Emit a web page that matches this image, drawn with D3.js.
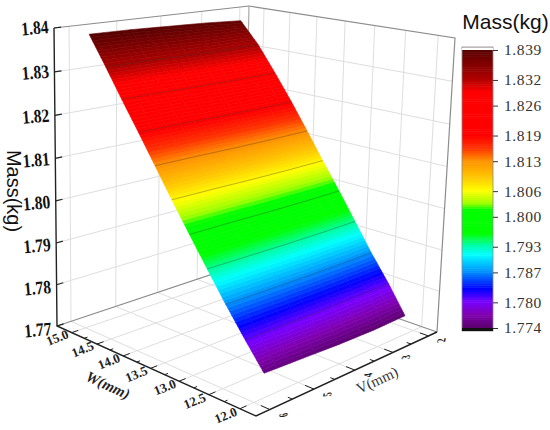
<!DOCTYPE html>
<html>
<head>
<meta charset="utf-8">
<script src="https://cdnjs.cloudflare.com/ajax/libs/d3/7.8.5/d3.min.js"></script>
<style>
  html, body { margin: 0; padding: 0; background: #fff; }
  svg { display: block; }
</style>
</head>
<body>
<svg id="chart" width="550" height="430"></svg>
<script>
// --------------------------------------------------------------------------------------
// data
// --------------------------------------------------------------------------------------
var w_rows = [12.05, 12.33, 12.62, 12.90, 13.18, 13.47, 13.75, 14.03, 14.32, 14.60, 14.88];
// the surface edges in V drift a bit from row to row
var v_left = [5.72, 5.76, 5.81, 5.85, 5.88, 5.90, 5.92, 5.94, 5.96, 5.98, 6.02];
var v_right = [2.17, 2.19, 2.23, 2.25, 2.27, 2.29, 2.31, 2.34, 2.38, 2.45, 2.54];
var mass_rows = [
  [1.7748, 1.7744, 1.7740, 1.7738, 1.7740],
  [1.7806, 1.7805, 1.7804, 1.7804, 1.7805],
  [1.7871, 1.7870, 1.7869, 1.7869, 1.7870],
  [1.7936, 1.7935, 1.7934, 1.7934, 1.7935],
  [1.8000, 1.8000, 1.7999, 1.7999, 1.8000],
  [1.8065, 1.8065, 1.8064, 1.8064, 1.8065],
  [1.8130, 1.8130, 1.8129, 1.8129, 1.8130],
  [1.8195, 1.8195, 1.8194, 1.8194, 1.8195],
  [1.8260, 1.8260, 1.8259, 1.8259, 1.8260],
  [1.8325, 1.8325, 1.8324, 1.8324, 1.8325],
  [1.8392, 1.8391, 1.8388, 1.8385, 1.8380]
];
var v_ticks = [6, 5, 4, 3, 2];
var w_ticks = [15.0, 14.5, 14.0, 13.5, 13.0, 12.5, 12.0];
var z_ticks = [1.77, 1.78, 1.79, 1.80, 1.81, 1.82, 1.83, 1.84];
var legend_ticks = [1.839, 1.832, 1.826, 1.819, 1.813, 1.806, 1.800, 1.793, 1.787, 1.780, 1.774];
var color_stops = [1.774, 1.777, 1.780, 1.783, 1.787, 1.791, 1.793, 1.796, 1.8015, 1.803, 1.806, 1.809, 1.813, 1.816, 1.819, 1.829, 1.832, 1.839];
var color_values = ["#5c0070", "#8000b0", "#7800ff", "#0000ff", "#0090ff", "#00ffff", "#00ffb0", "#00ff00", "#00ff00", "#a0ff00", "#ffff00", "#ffc800", "#ff9000", "#ff3000", "#ff0000", "#ff0000", "#b00000", "#560000"];
// --------------------------------------------------------------------------------------
// box corners on screen - floor and ceiling, a = left, b = front, c = right, d = back
// --------------------------------------------------------------------------------------
var floor_h = homography([57, 326], [256, 416], [437, 332], [243, 264]);
var ceil_h = homography([54, 28], [265, 72], [455, 38], [249, 6]);
var persp = 0.965;     // heights get a bit larger towards the top

var v_scale = d3.scaleLinear().domain([6.3, 1.75]).range([0, 1]);
var w_scale = d3.scaleLinear().domain([15.3, 11.75]).range([0, 1]);
var z_scale = d3.scaleLinear().domain([1.77, 1.84]).range([0, 1]);
var color = d3.scaleLinear().domain(color_stops).range(color_values).clamp(true);
// --------------------------------------------------------------------------------------
// maps the unit square to a quad, (0,0) = a, (0,1) = b, (1,1) = c, (1,0) = d
// --------------------------------------------------------------------------------------
function homography(a, b, c, d)
{
  var dx1 = b[0] - c[0], dx2 = d[0] - c[0], sx = a[0] - b[0] + c[0] - d[0];
  var dy1 = b[1] - c[1], dy2 = d[1] - c[1], sy = a[1] - b[1] + c[1] - d[1];
  var den = dx1 * dy2 - dx2 * dy1;
  var g = (sx * dy2 - dx2 * sy) / den;
  var h = (dx1 * sy - sx * dy1) / den;
  return function(u, v) {
    // s runs along a->b, t along a->d
    var s = v, t = u;
    var w = g * s + h * t + 1;
    return [(a[0] + (b[0] - a[0] + g * b[0]) * s + (d[0] - a[0] + h * d[0]) * t) / w,
            (a[1] + (b[1] - a[1] + g * b[1]) * s + (d[1] - a[1] + h * d[1]) * t) / w];
  };
}
// --------------------------------------------------------------------------------------
// data coordinates -> screen
// --------------------------------------------------------------------------------------
function project(v, w, z)
{
  var f = floor_h(v_scale(v), w_scale(w));
  var c = ceil_h(v_scale(v), w_scale(w));
  var h = z_scale(z);
  var t = h * persp / (1 + h * (persp - 1));
  return [f[0] + (c[0] - f[0]) * t, f[1] + (c[1] - f[1]) * t];
}

var svg = d3.select("#chart");
var line = d3.line();
var v0 = v_scale.domain()[0], v1 = v_scale.domain()[1];
var w0 = w_scale.domain()[0], w1 = w_scale.domain()[1];
var z0 = z_scale.domain()[0], z1 = z_scale.domain()[1];

function draw_line(g, pts, stroke, width)
{
  g.append("path").attr("d", line(pts)).attr("fill", "none")
    .attr("stroke", stroke).attr("stroke-width", width);
}
// --------------------------------------------------------------------------------------
// grid on the walls and floor
// --------------------------------------------------------------------------------------
var grid = svg.append("g");
var grid_color = "#dedede";

v_ticks.forEach(function(v) {
  draw_line(grid, [project(v, w0, z0), project(v, w0, z1)], grid_color, 1);
  draw_line(grid, [project(v, w0, z0), project(v, w1, z0)], grid_color, 1);
});
w_ticks.forEach(function(w) {
  draw_line(grid, [project(v1, w, z0), project(v1, w, z1)], grid_color, 1);
  draw_line(grid, [project(v0, w, z0), project(v1, w, z0)], grid_color, 1);
});
z_ticks.slice(1, -1).forEach(function(z) {
  draw_line(grid, [project(v0, w0, z), project(v1, w0, z), project(v1, w1, z)], grid_color, 1);
});

// box edges
draw_line(grid, [project(v0, w0, z1), project(v1, w0, z1), project(v1, w1, z1), project(v1, w1, z0)], "#8c8c8c", 1.2);
draw_line(grid, [project(v1, w0, z1), project(v1, w0, z0)], "#a8a8a8", 1.2);
draw_line(grid, [project(v0, w0, z0), project(v1, w0, z0), project(v1, w1, z0)], "#8c8c8c", 1.2);
// --------------------------------------------------------------------------------------
// axes
// --------------------------------------------------------------------------------------
var axes = svg.append("g");
var serif = "'Liberation Serif', serif";
var sans = "'Liberation Sans', sans-serif";

draw_line(axes, [project(v0, w0, z1), project(v0, w0, z0), project(v0, w1, z0), project(v1, w1, z0)], "#222", 1.4);

z_ticks.forEach(function(z) {
  var p = project(v0, w0, z);
  draw_line(axes, [p, project(v0 - 0.14, w0, z)], "#222", 1.2);
  // labels lean with the wall, lower ones sit further below their tick
  var dy = 5 + (1 - z_scale(z)) * 4;
  axes.append("text")
    .attr("transform", "translate(" + (p[0] - 5) + "," + (p[1] + dy) + ") rotate(-5) scale(0.82,1)")
    .attr("text-anchor", "end").attr("font-family", serif)
    .attr("font-weight", "bold").attr("font-size", 19).attr("fill", "#111")
    .text(z.toFixed(2));
});

d3.range(15, 11.9, -0.25).forEach(function(w) {
  var major = Number.isInteger(w * 2);
  draw_line(axes, [project(v0, w, z0), project(v0 - (major ? 0.14 : 0.07), w, z0)], "#222", 1);
});
w_ticks.forEach(function(w) {
  var p = project(v0 + 0.3, w, z0);
  axes.append("text").attr("transform", "translate(" + p + ") rotate(-22)")
    .attr("text-anchor", "middle").attr("dy", "0.35em").attr("font-family", serif)
    .attr("font-weight", "bold").attr("font-size", 13).attr("fill", "#222")
    .text(w.toFixed(1));
});

d3.range(6, 1.9, -0.5).forEach(function(v) {
  var major = Number.isInteger(v);
  draw_line(axes, [project(v, w1, z0), project(v, w1 + (major ? 0.14 : 0.07), z0)], "#222", 1);
});
v_ticks.forEach(function(v) {
  var p = project(v, w1 - 0.2, z0);
  axes.append("text").attr("transform", "translate(" + p + ") rotate(-20) scale(1,0.6) rotate(-70)")
    .attr("text-anchor", "middle").attr("dy", "0.35em").attr("font-family", serif)
    .attr("font-weight", "bold").attr("font-size", 13).attr("fill", "#222")
    .text(v);
});

axes.append("text").attr("transform", "translate(108,385) rotate(25)")
  .attr("text-anchor", "middle").attr("dy", "0.35em").attr("font-family", serif)
  .attr("font-weight", "bold").attr("font-style", "italic").attr("font-size", 15).attr("fill", "#222")
  .text("W(mm)");
axes.append("text").attr("transform", "translate(377,380) rotate(-25)")
  .attr("text-anchor", "middle").attr("dy", "0.35em").attr("font-family", serif)
  .attr("font-size", 15).attr("fill", "#333")
  .text("V(mm)");
axes.append("text").attr("transform", "translate(14,191) rotate(90)")
  .attr("text-anchor", "middle").attr("dy", "0.35em").attr("font-family", sans)
  .attr("font-size", 20).attr("fill", "#111")
  .text("Mass(kg)");
// --------------------------------------------------------------------------------------
// surface - cells are split up so that the colour runs smoothly
// --------------------------------------------------------------------------------------
var surface = svg.append("g");
var steps_w = 10, steps_v = 3, n_cols = mass_rows[0].length;

function row_v(r, c)
{
  return v_left[r] + (v_right[r] - v_left[r]) * c / (n_cols - 1);
}
function cell_point(r, c, s, t)
{
  var a = mass_rows[r][c], b = mass_rows[r][c + 1];
  var d = mass_rows[r + 1][c], e = mass_rows[r + 1][c + 1];
  var va = row_v(r, c) * (1 - t) + row_v(r, c + 1) * t;
  var vb = row_v(r + 1, c) * (1 - t) + row_v(r + 1, c + 1) * t;
  return { v : va * (1 - s) + vb * s,
           w : w_rows[r] + (w_rows[r + 1] - w_rows[r]) * s,
           m : (a * (1 - t) + b * t) * (1 - s) + (d * (1 - t) + e * t) * s };
}

for(var r = 0; r < w_rows.length - 1; r++) {
  for(var c = 0; c < n_cols - 1; c++) {
    for(var i = 0; i < steps_w; i++) {
      for(var j = 0; j < steps_v; j++) {
        var corners = [[i, j], [i + 1, j], [i + 1, j + 1], [i, j + 1]].map(function(k) {
          var q = cell_point(r, c, k[0] / steps_w, k[1] / steps_v);
          return project(q.v, q.w, q.m);
        });
        var col = color(cell_point(r, c, (i + 0.5) / steps_w, (j + 0.5) / steps_v).m);
        surface.append("path").attr("d", line(corners) + "Z")
          .attr("fill", col).attr("stroke", col).attr("stroke-width", 0.6);
      }
    }
  }
}

// mesh lines
w_rows.slice(1, -1).forEach(function(w, i) {
  var pts = mass_rows[i + 1].map(function(m, c) { return project(row_v(i + 1, c), w, m); });
  draw_line(surface, pts, "rgba(40,40,40,0.4)", 0.8);
});
// --------------------------------------------------------------------------------------
// colour bar
// --------------------------------------------------------------------------------------
var bar_y = d3.scaleLinear().domain([1.774, 1.839]).range([328, 50]);
var bar = svg.append("g");
var bands = d3.range(1.774, 1.8392, 0.0005);

bar.selectAll("rect").data(bands).enter().append("rect")
  .attr("x", 462).attr("width", 31)
  .attr("y", function(d) { return bar_y(d + 0.0005); })
  .attr("height", function(d) { return bar_y(d) - bar_y(d + 0.0005) + 0.5; })
  .attr("fill", function(d) { return color(d); });

bar.append("rect").attr("x", 462).attr("y", 47).attr("width", 31).attr("height", 284)
  .attr("fill", "none").attr("stroke", "#888").attr("stroke-width", 0.8);
bar.append("rect").attr("x", 462).attr("y", 328).attr("width", 31).attr("height", 3).attr("fill", "#111");
bar.append("rect").attr("x", 462).attr("y", 48).attr("width", 31).attr("height", 2).attr("fill", "#fff");

var bar_axis = bar.append("g").attr("transform", "translate(493,0)")
  .call(d3.axisRight(bar_y).tickValues(legend_ticks).tickSize(5).tickPadding(6).tickFormat(d3.format(".3f")));
bar_axis.select(".domain").remove();
bar_axis.selectAll("line").attr("stroke", "#333");
bar_axis.selectAll("text").attr("font-family", serif).attr("font-size", 15.5)
  .attr("letter-spacing", "0.6px").attr("fill", "#333");

bar.append("text").attr("x", 505.5).attr("y", 29).attr("text-anchor", "middle")
  .attr("font-family", sans).attr("font-size", 21).attr("fill", "#111")
  .text("Mass(kg)");
</script>
</body>
</html>
